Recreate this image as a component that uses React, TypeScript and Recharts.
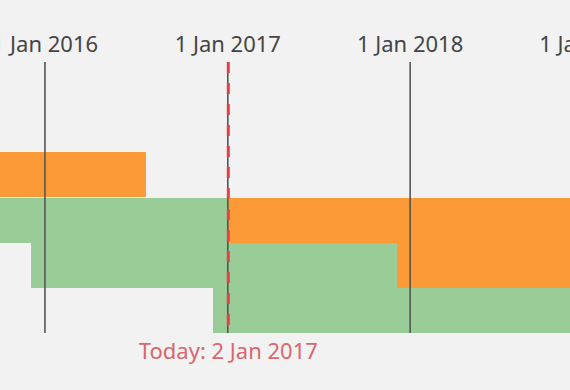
import { BarChart, Bar, XAxis, YAxis, ReferenceLine } from "recharts";

const day = (s: string) => new Date(s + "T00:00:00Z").getTime();

// rows, top to bottom
const rows = ["A", "B", "C", "D", "E", "F"];

// green spans per row [start, end]
const greenSpans: ([string, string] | null)[] = [
  null,
  null,
  null,
  ["2015-06-01", "2017-01-02"],
  ["2015-12-04", "2017-12-06"],
  ["2016-12-02", "2019-12-31"],
];

// orange spans per row [start, end]
const orangeSpans: ([string, string] | null)[] = [
  null,
  null,
  ["2015-06-01", "2016-07-21"],
  ["2017-01-02", "2019-12-31"],
  ["2017-12-06", "2019-12-31"],
  null,
];

const yearTicks = ["2016-01-01", "2017-01-01", "2018-01-01", "2019-01-01"];
const today = "2017-01-02";
const domain = ["2015-10-03", "2018-11-17"];

const MONTHS = ["Jan", "Feb", "Mar", "Apr", "May", "Jun", "Jul", "Aug", "Sep", "Oct", "Nov", "Dec"];
const fmt = (t: number) => {
  const d = new Date(t);
  return `${d.getUTCDate()} ${MONTHS[d.getUTCMonth()]} ${d.getUTCFullYear()}`;
};

const data = rows.map((name, i) => ({
  name,
  green: greenSpans[i] ? [day(greenSpans[i]![0]), day(greenSpans[i]![1])] : null,
  orange: orangeSpans[i] ? [day(orangeSpans[i]![0]), day(orangeSpans[i]![1])] : null,
}));

const FONT = "'Noto Sans', sans-serif";

export default function App() {
  return (
    <div style={{ position: "fixed", left: 0, top: 0, width: 570, height: 390, background: "#f2f2f2" }}>
      <BarChart
        width={570}
        height={390}
        data={data}
        layout="vertical"
        barCategoryGap={0}
        margin={{ top: 22, right: 0, bottom: 57, left: 0 }}
      >
        <XAxis
          type="number"
          orientation="top"
          dataKey="green"
          domain={[day(domain[0]), day(domain[1])]}
          allowDataOverflow
          ticks={yearTicks.map(day)}
          interval={0}
          tickFormatter={fmt}
          axisLine={false}
          tickLine={false}
          tickSize={0}
          tickMargin={10}
          height={40}
          tick={{ fill: "#444", fontSize: 22, fontFamily: FONT }}
        />
        <YAxis type="category" dataKey="name" hide />
        <YAxis type="category" dataKey="name" yAxisId="b" hide />
        <Bar dataKey="green" fill="#9acc98" shapeRendering="crispEdges" isAnimationActive={false} />
        <Bar dataKey="orange" yAxisId="b" fill="#fd9a38" shapeRendering="crispEdges" isAnimationActive={false} />
        {yearTicks.map((t) => (
          <ReferenceLine key={t} x={day(t)} stroke="#555" strokeWidth={1.6} />
        ))}
        <ReferenceLine
          x={day(today)}
          stroke="#e5404a"
          strokeWidth={3}
          strokeDasharray="11 10"
          label={{
            value: `Today: ${fmt(day(today))}`,
            position: "bottom",
            offset: 10,
            fill: "#d9666f",
            fontSize: 22,
            fontFamily: FONT,
          }}
        />
      </BarChart>
    </div>
  );
}
